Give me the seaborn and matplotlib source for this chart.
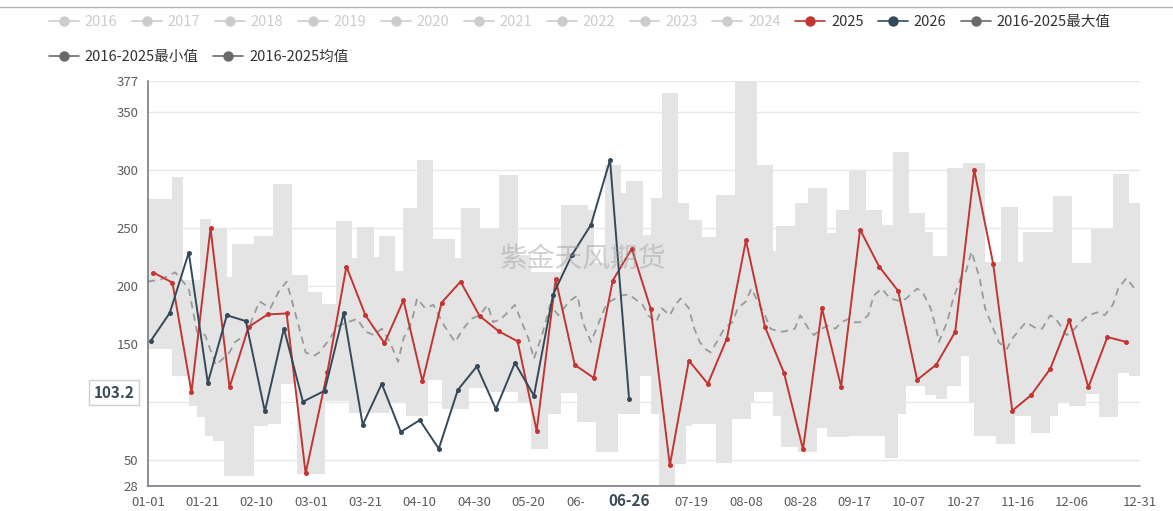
import numpy as np
import pandas as pd
import matplotlib
matplotlib.use("Agg")
import matplotlib.pyplot as plt
import seaborn as sns
from matplotlib.lines import Line2D
from matplotlib.patches import Rectangle
import matplotlib.transforms as mtransforms

# ---------------- data ----------------
s2025_start, s2025_n = "2025-01-03", 52
s2026_start, s2026_n = "2026-01-02", 26
v2025 = [211.8, 203.1, 108.7, 249.9, 113, 165, 175.7, 176.6, 38.8, 126,
         217, 175, 151, 188, 118, 185.8, 204, 174.5, 161.3, 152.6,
         75.5, 206, 132.4, 121.1, 204.9, 232.3, 180.3, 45.7, 136, 116,
         155, 239.5, 165, 125.5, 59.6, 181, 113.6, 248.8, 217, 196,
         119.4, 132.4, 160.7, 300.2, 219, 92.8, 106.4, 129, 170.8, 113,
         156.3, 152]
v2026 = [152.9, 177, 229, 116.8, 175, 170, 92.2, 163.6, 100.6, 110,
         177, 80.7, 116, 74.6, 84.7, 60.1, 110.7, 131, 94.3, 134,
         105.8, 192.5, 227, 253, 308.8, 103.2]

# 2016-2025 max / min envelope (step breakpoints: day-of-year, value)
max_days = [0, 9, 13, 19, 23, 29, 31, 39, 46, 53, 59, 64, 69, 75, 77, 83, 85, 91, 94, 99,
            105, 113, 115, 122, 129, 136, 141, 152, 162, 164, 168, 174, 176, 182, 185, 189,
            195, 199, 204, 209, 216, 224, 230, 231, 238, 243, 250, 253, 258, 264, 270, 274,
            280, 286, 289, 294, 300, 308, 314, 320, 322, 333, 340, 347, 355, 361, 365]
max_vals = [275, 294, 205, 258, 250, 208, 236, 243, 288, 210, 195, 185, 256, 224, 251, 225, 243, 213, 267, 309,
            241, 224, 267, 249, 296, 227, 212, 270, 266, 220, 304, 280, 291, 244, 276, 366,
            272, 257, 242, 279, 377, 304, 230, 252, 272, 285, 246, 266, 300, 266, 253, 316,
            263, 247, 226, 302, 306, 221, 268, 221, 247, 278, 220, 249, 297, 272, 272]
min_days = [0, 9, 15, 18, 21, 24, 28, 39, 44, 49, 55, 65, 74, 89, 95, 103, 108, 118, 125, 136,
            141, 147, 152, 158, 165, 173, 181, 185, 188, 194, 198, 200, 209, 215, 222, 223, 230,
            233, 239, 246, 250, 258, 271, 276, 279, 286, 290, 294, 299, 302, 304, 312, 319, 325,
            332, 335, 339, 345, 350, 357, 361, 365]
min_vals = [146, 123, 97, 87, 71, 67, 37, 80, 81, 116, 38, 101, 91, 100, 88, 119, 94, 112, 109, 100,
            60, 90, 108, 83, 57, 90, 123, 90, 28, 47, 80, 81, 48, 86, 100, 109, 88,
            62, 57, 78, 70, 71, 52, 90, 114, 106, 103, 114, 140, 100, 71, 64, 88, 74,
            88, 100, 97, 107, 87, 125, 123, 123]

# 2016-2025 average
avg_days = [0, 5, 10, 15, 18, 21, 25, 30, 32, 36, 41, 45, 48, 51, 53, 56, 58, 61, 63, 66,
            70, 77, 80, 83, 86, 89, 92, 94, 97, 99, 102, 105, 109, 113, 116, 119, 122, 125, 127, 130,
            135, 137, 140, 142, 145, 148, 151, 155, 158, 160, 163, 165, 168, 170, 174, 177, 182, 184, 187, 189,
            192, 194, 196, 199, 201, 203, 205, 207, 210, 212, 215, 217, 220, 222, 225, 227, 229, 232, 234, 238,
            240, 243, 245, 248, 250, 253, 255, 258, 260, 262, 265, 267, 270, 273, 277, 279, 283, 285, 288, 290,
            291, 294, 296, 299, 301, 303, 306, 308, 311, 313, 316, 318, 321, 323, 327, 329, 332, 334, 338, 340,
            343, 346, 350, 352, 355, 357, 360, 363]
avg_vals = [204, 206, 212, 198, 161, 158, 132, 143, 152, 158, 187, 181, 195, 204, 187, 161, 143, 140, 143, 152,
            166, 172, 161, 158, 163.5, 152, 135, 155, 169, 189.5, 181, 184, 166, 152, 163.5, 172, 175, 184, 169, 172,
            184, 172, 155, 137.5, 158, 184, 175, 187, 192, 169, 152, 163.5, 181, 187, 192, 193, 184, 175, 169, 181,
            175, 184, 189.5, 181, 163.5, 152, 146, 143, 155, 163.5, 169, 181, 187, 198, 184, 175, 163.5, 161, 161, 163.5,
            175, 163.5, 158, 163.5, 166, 163.5, 169, 172, 169, 169, 175, 192, 198, 189.5, 187, 189.5, 198, 195, 181, 163.5,
            152, 169, 187, 207, 213, 230, 207, 181, 163.5, 152, 146, 155, 163.5, 169, 163.5, 163.5, 175, 172, 158, 161,
            169, 175, 178, 175, 184, 198, 207, 198]

x_ticks = ["01-01", "01-21", "02-10", "03-01", "03-21", "04-10", "04-30", "05-20", "06-09",
           "06-29", "07-19", "08-08", "08-28", "09-17", "10-07", "10-27", "11-16", "12-06", "12-31"]
y_ticks = [28, 50, 100, 150, 200, 250, 300, 350, 377]
pointer_x, pointer_y = "06-26", 103.2
legend_row1 = ["2016", "2017", "2018", "2019", "2020", "2021", "2022", "2023", "2024",
               "2025", "2026", "2016-2025最大值"]
legend_row2 = ["2016-2025最小值", "2016-2025均值"]
watermark = "紫金天风期货"


def mmdd_to_day(s):
    m, d = int(s[:2]), int(s[3:])
    return (pd.Timestamp(2024, m, d) - pd.Timestamp(2024, 1, 1)).days


def dates_to_days(start, n):
    dr = pd.date_range(start, periods=n, freq="7D")
    return [mmdd_to_day(d.strftime("%m-%d")) for d in dr]


df25 = pd.DataFrame({"day": dates_to_days(s2025_start, s2025_n), "v": v2025})
df26 = pd.DataFrame({"day": dates_to_days(s2026_start, s2026_n), "v": v2026})
dfavg = pd.DataFrame({"day": avg_days, "v": avg_vals})

# ---------------- style ----------------
sns.set_theme(style="white")
plt.rcParams["font.family"] = ["Noto Sans CJK SC", "DejaVu Sans"]

C25 = "#c23531"
C26 = "#34495a"
CGREY = "#6a6a6a"
CINACT = "#cccccc"
CTXT = "#5c5c5c"

fig = plt.figure(figsize=(11.73, 5.11), dpi=100)
ax = fig.add_axes([148 / 1173, 25 / 511, 992 / 1173, 405.3 / 511])

# band
xs = np.union1d(max_days, min_days)
mx = np.asarray(max_vals)[np.searchsorted(max_days, xs, side="right") - 1]
mn = np.asarray(min_vals)[np.searchsorted(min_days, xs, side="right") - 1]
ax.fill_between(xs, mn, mx, step="post", color="#e4e4e4", lw=0, zorder=1)

# average
sns.lineplot(data=dfavg, x="day", y="v", ax=ax, color="#9a9a9a", lw=1.3,
             linestyle=(0, (4, 3)), zorder=2, legend=False)
# 2025
sns.lineplot(data=df25, x="day", y="v", ax=ax, color=C25, lw=1.4, marker="o",
             markersize=3.6, markeredgewidth=0, zorder=4, legend=False)
# 2026
sns.lineplot(data=df26, x="day", y="v", ax=ax, color=C26, lw=1.4, marker="o",
             markersize=3.6, markeredgewidth=0, zorder=5, legend=False)

# axes
ax.set_xlim(0, 365)
ax.set_ylim(28, 377)
ax.set_xlabel("")
ax.set_ylabel("")
pdx = mmdd_to_day(pointer_x)
tick_days = [mmdd_to_day(t) for t in x_ticks]
ax.set_xticks(tick_days)
# the 06-29 label sits under the axis-pointer label, as in the reference
ax.set_xticklabels(["" if abs(d - pdx) < 5 else t for d, t in zip(tick_days, x_ticks)])
ax.set_yticks(y_ticks)
ax.set_yticklabels(["" if abs(t - pointer_y) < 10 else str(t) for t in y_ticks])
ax.tick_params(axis="both", length=4, width=1, color="#6e7079", labelcolor=CTXT,
               labelsize=9.5, direction="out", pad=3)
ax.yaxis.grid(True, color="#e6e8ee", lw=1)
ax.xaxis.grid(False)
ax.set_axisbelow(True)
for s in ["top", "right"]:
    ax.spines[s].set_visible(False)
for s in ["left", "bottom"]:
    ax.spines[s].set_color("#6e7079")
    ax.spines[s].set_linewidth(1.1)

# watermark
ax.text(160, 224, watermark, fontsize=20, color="#9a9a9a",
        alpha=0.45, ha="center", va="center", zorder=6)

# axis pointer labels
trans_x = mtransforms.blended_transform_factory(ax.transData, ax.transAxes)
ax.add_patch(Rectangle((pdx - 16.5, -0.075), 31.5, 0.064, transform=trans_x,
                       facecolor="white", edgecolor="none", clip_on=False, zorder=10))
ax.text(pdx, -0.036, pointer_x, transform=trans_x, ha="center", va="center",
        fontsize=11, fontweight="bold", color="#3a4a58", zorder=11, clip_on=False)
trans_y = mtransforms.blended_transform_factory(ax.transAxes, ax.transData)
ax.text(-0.034, pointer_y + 5, f"{pointer_y}", transform=trans_y, ha="center", va="center",
        fontsize=11, fontweight="bold", color="#3a4a58", zorder=11, clip_on=False,
        bbox=dict(boxstyle="square,pad=0.3", facecolor="white", edgecolor="#d0d0d0", lw=1))

# legend
def handle(c):
    return Line2D([0], [0], color=c, lw=1.2, marker="o", markersize=7.5, markeredgewidth=0)

leg_kw = dict(frameon=False, fontsize=10.5, handlelength=2.05, handletextpad=0.4,
              columnspacing=1.0, borderpad=0, borderaxespad=0, numpoints=1, loc="center left")
cols1 = [CINACT] * 9 + [C25, C26, CGREY]
h1 = [handle(c) for c in cols1]
leg1 = fig.legend(h1, legend_row1, ncol=12, bbox_to_anchor=(49 / 1173, 1 - 22 / 511), **leg_kw)
for t, c in zip(leg1.get_texts(), [CINACT] * 9 + ["#333333"] * 3):
    t.set_color(c)
h2 = [handle(CGREY), handle(CGREY)]
leg2 = fig.legend(h2, legend_row2, ncol=2, bbox_to_anchor=(49 / 1173, 1 - 57 / 511), **leg_kw)
for t in leg2.get_texts():
    t.set_color("#333333")

fig.add_artist(Line2D([0, 1], [1 - 7.5 / 511, 1 - 7.5 / 511], transform=fig.transFigure,
                      color="#b0b0b0", lw=1))

fig.savefig("out.png", dpi=100)
